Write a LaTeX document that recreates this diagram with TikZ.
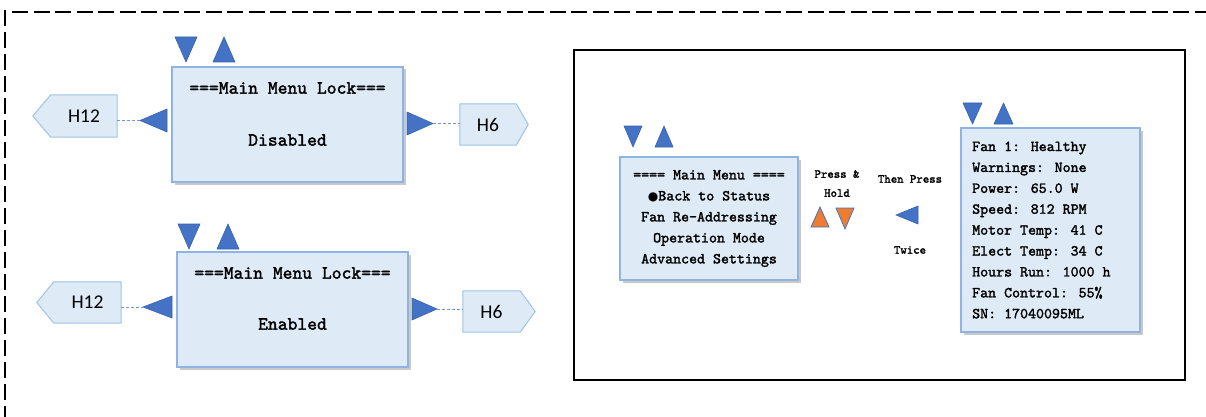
\documentclass[tikz,border=0pt]{standalone}
\usepackage{fontspec}
\usetikzlibrary{shadows,calc}
\newfontfamily\mono{lmmono10-regular.otf}[FakeBold=1.8]
\newfontfamily\calib{Carlito}
\newfontfamily\dejavu{DejaVu Sans}
\definecolor{boxfill}{HTML}{DEEAF6}
\definecolor{boxline}{HTML}{8FB4E3}
\definecolor{triblue}{HTML}{4472C4}
\definecolor{triedge}{HTML}{3A62AE}
\definecolor{orng}{HTML}{ED7D31}
\definecolor{pentline}{HTML}{9DC3E6}
\begin{document}
\begin{tikzpicture}[x=1pt,y=-1pt,
  screen/.style={draw=boxline,fill=boxfill,line width=1.1pt,inner sep=0pt,
    drop shadow={shadow xshift=2.5pt,shadow yshift=-2.5pt,opacity=0.3,fill=black!70}},
  locktxt/.style={inner sep=0pt,font=\mono\fontsize{18.7}{22}\selectfont},
  menutxt/.style={inner sep=0pt,align=center,font=\mono\fontsize{15.2}{21}\selectfont},
  stattxt/.style={inner sep=0pt,align=left,font=\mono\fontsize{15.2}{20.9}\selectfont},
  smalltxt/.style={inner sep=0pt,align=center,font=\mono\fontsize{12.2}{19}\selectfont},
  htxt/.style={inner sep=0pt,font=\calib\fontsize{19.5}{22}\selectfont},
  pentbox/.style={inner sep=0pt},
  pent/.style={draw=pentline,fill=boxfill,line width=1pt},
  tri/.style={fill=triblue,draw=triedge,line width=0.6pt,line join=miter},
  otri/.style={fill=orng,draw=triblue,line width=0.8pt,line join=miter},
  conn/.style={draw=triblue!75,dash pattern=on 3pt off 2pt,line width=0.9pt}]
\useasboundingbox (0,0) rectangle (1206,417);

% outer dashed frame
\draw[line width=2pt,dash pattern=on 16pt off 5.5pt] (12,12) -- (1206,12);
\draw[line width=2pt,dash pattern=on 16pt off 6pt] (4.5,10) -- (4.5,417);

% inner black frame
\draw[line width=1.2pt] (574,50) rectangle (1185,380);

% ---------- Lock box 1 (Disabled) ----------
\node[screen,minimum width=231pt,minimum height=115pt] (lock1) at (287.5,124.5) {};
\node[locktxt] (lock1t) at (287.5,88) {===Main Menu Lock===};
\node[locktxt] (lock1v) at (287.5,140) {Disabled};
\draw[tri] (175,37) -- (197,37) -- (186,62) -- cycle;
\draw[tri] (213,62) -- (235,62) -- (224,37) -- cycle;
\coordinate (lt1) at (140,120.5);
\draw[tri] (lt1) -- (167,109) -- (167,132) -- cycle;
\coordinate (rt1) at (433,123.5);
\draw[tri] (rt1) -- (407,112) -- (407,135) -- cycle;
\node[pentbox,minimum width=84pt,minimum height=42pt] (h12a) at (75,116) {};
\draw[pent] ($(h12a.north west)+(18,0)$) -- (h12a.north east) -- (h12a.south east)
  -- ($(h12a.south west)+(18,0)$) -- (h12a.west) -- cycle;
\node[htxt] (h12at) at ($(h12a.center)+(9,0)$) {H12};
\node[pentbox,minimum width=68pt,minimum height=41pt] (h6a) at (494,124.5) {};
\draw[pent] (h6a.north west) -- ($(h6a.north east)+(-12,0)$) -- (h6a.east)
  -- ($(h6a.south east)+(-12,0)$) -- (h6a.south west) -- cycle;
\node[htxt] (h6at) at ($(h6a.center)+(-6,0)$) {H6};
\draw[conn] (h12a.east |- lt1) -- (lt1);
\draw[conn] (rt1) -- (h6a.west |- rt1);

% ---------- Lock box 2 (Enabled) ----------
\node[screen,minimum width=231pt,minimum height=115pt] (lock2) at (292.5,309.5) {};
\node[locktxt] (lock2t) at (292.5,273) {===Main Menu Lock===};
\node[locktxt] (lock2v) at (292.5,324) {Enabled};
\draw[tri] (178,224) -- (200,224) -- (189,249) -- cycle;
\draw[tri] (217,249) -- (239,249) -- (228,224) -- cycle;
\coordinate (lt2) at (143,307);
\draw[tri] (lt2) -- (172,296) -- (172,318) -- cycle;
\coordinate (rt2) at (437,309);
\draw[tri] (rt2) -- (412,298) -- (412,320) -- cycle;
\node[pentbox,minimum width=84pt,minimum height=41pt] (h12b) at (79,302.5) {};
\draw[pent] ($(h12b.north west)+(17,0)$) -- (h12b.north east) -- (h12b.south east)
  -- ($(h12b.south west)+(17,0)$) -- (h12b.west) -- cycle;
\node[htxt] (h12bt) at ($(h12b.center)+(8.5,0)$) {H12};
\node[pentbox,minimum width=72pt,minimum height=41pt] (h6b) at (499,311.5) {};
\draw[pent] (h6b.north west) -- ($(h6b.north east)+(-15,0)$) -- (h6b.east)
  -- ($(h6b.south east)+(-15,0)$) -- (h6b.south west) -- cycle;
\node[htxt] (h6bt) at ($(h6b.center)+(-7.5,0)$) {H6};
\draw[conn] (h12b.east |- lt2) -- (lt2);
\draw[conn] (rt2) -- (h6b.west |- rt2);

% ---------- Main menu ----------
\node[screen,minimum width=178pt,minimum height=123pt,menutxt] (menu) at (709,218.5)
  {==== Main Menu ====\\{\dejavu\fontsize{12}{12}\selectfont ●}Back to Status\\Fan Re-Addressing\\Operation Mode\\Advanced Settings};
\draw[tri] (624,126) -- (642,126) -- (633,147) -- cycle;
\draw[tri] (655,147) -- (673,147) -- (664,126) -- cycle;

\node[smalltxt] (press) at (837,183.5) {Press \&\\Hold};
\draw[otri] (811,227) -- (829,227) -- (820,207) -- cycle;
\draw[otri] (836,208) -- (854,208) -- (845,229) -- cycle;
\node[smalltxt] (then) at (910,179) {Then Press};
\draw[tri] (896,215) -- (918,206) -- (918,224) -- cycle;
\node[smalltxt] (twice) at (910,250) {Twice};

% ---------- Status screen ----------
\node[screen,minimum width=179pt,minimum height=204pt] (status) at (1050.5,230) {};
\node[stattxt,anchor=west] (statust) at (972,230)
  {Fan 1: Healthy\\Warnings: None\\Power: 65.0 W\\Speed: 812 RPM\\Motor Temp: 41 C\\Elect Temp: 34 C\\Hours Run: 1000 h\\Fan Control: 55\%\\SN: 17040095ML};
\draw[tri] (963,103) -- (982,103) -- (972.5,124) -- cycle;
\draw[tri] (994,124) -- (1013,124) -- (1003.5,103) -- cycle;
\end{tikzpicture}
\end{document}
